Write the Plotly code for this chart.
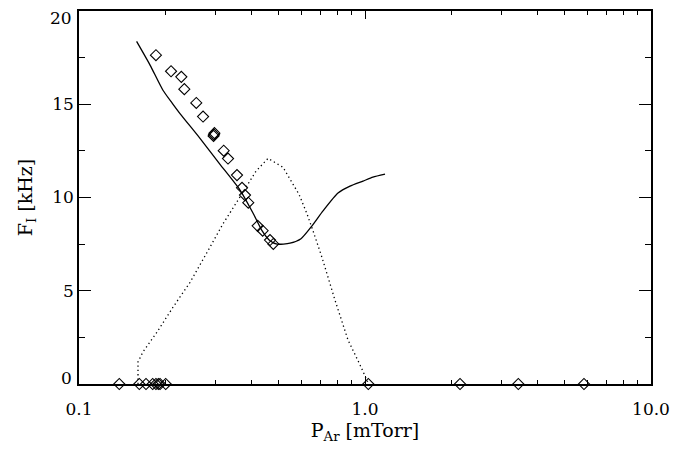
import plotly.graph_objects as go

# Model curve: ionisation frequency vs argon pressure
model_p = [0.1590, 0.1772, 0.1966, 0.2120, 0.2255, 0.2649, 0.3112, 0.3656,
           0.4058, 0.4364, 0.4654, 0.4925, 0.5467, 0.5973, 0.6527, 0.7131,
           0.8046, 0.8863, 0.9840, 1.066, 1.175]
model_f = [18.37, 17.10, 15.75, 15.05, 14.50, 13.17, 11.78, 10.40,
           9.17, 8.22, 7.68, 7.50, 7.55, 7.79, 8.48, 9.28,
           10.24, 10.61, 10.88, 11.09, 11.25]

# Second model curve (dotted)
alt_p = [0.1608, 0.1608, 0.1674, 0.1874, 0.2132, 0.2444, 0.2802, 0.3188,
         0.3656, 0.4157, 0.4582, 0.5168, 0.5878, 0.6269, 0.6579, 0.7075,
         0.7856, 0.8721, 0.9605, 1.0245]
alt_f = [0.0, 1.19, 1.72, 2.78, 4.12, 5.45, 7.05, 8.59,
         10.03, 11.41, 12.10, 11.62, 10.17, 9.12, 8.22, 6.78,
         4.49, 2.36, 1.03, 0.07]

# Measured frequencies
meas_p = [0.1858, 0.2098, 0.2279, 0.2335, 0.2571, 0.2715, 0.2955, 0.2965,
          0.2975, 0.3206, 0.3319, 0.3568, 0.3715, 0.3805, 0.3908, 0.4214,
          0.4387, 0.4654, 0.4780]
meas_f = [17.63, 16.77, 16.47, 15.81, 15.07, 14.34, 13.30, 13.37,
          13.45, 12.51, 12.09, 11.20, 10.52, 10.13, 9.72, 8.48,
          8.22, 7.72, 7.51]

# Pressures where no oscillation was observed
none_p = [0.1383, 0.1625, 0.1715, 0.1810, 0.1858, 0.1894, 0.1920, 0.2010,
          1.027, 2.149, 3.436, 5.83]
none_f = [0.0] * len(none_p)

x_ticks = [0.1, 1.0, 10.0]
x_labels = ["0.1", "1.0", "10.0"]
x_minor = [0.2, 0.3, 0.4, 0.5, 0.6, 0.7, 0.8, 0.9,
           2, 3, 4, 5, 6, 7, 8, 9]
y_ticks = [0, 5, 10, 15, 20]
y_labels = ["0", "5", "10", "15", "20"]

FONT = "DejaVu Serif"
TICK_FONT = dict(family=FONT, size=17, color="black")

fig = go.Figure()
fig.add_trace(go.Scatter(x=alt_p, y=alt_f, mode="lines",
                         line=dict(color="black", width=1.3, dash="1.3px,3px"),
                         showlegend=False))
fig.add_trace(go.Scatter(x=model_p, y=model_f, mode="lines",
                         line=dict(color="black", width=1.3, shape="spline",
                                   smoothing=0.6),
                         showlegend=False))
fig.add_trace(go.Scatter(x=meas_p + none_p, y=meas_f + none_f, mode="markers",
                         marker=dict(symbol="diamond-open", size=8.5,
                                     color="black", line=dict(width=1.1)),
                         cliponaxis=False, showlegend=False))

axis_common = dict(showline=True, linecolor="black", linewidth=1.5,
                   mirror="ticks", ticks="inside", tickcolor="black",
                   tickwidth=1.3, showgrid=False, zeroline=False,
                   tickfont=TICK_FONT)

fig.update_xaxes(type="log", range=[-1, 1], tickmode="array",
                 tickvals=x_ticks, ticktext=x_labels, ticklen=8,
                 ticklabelstandoff=9,
                 minor=dict(tickmode="array", tickvals=x_minor,
                            ticks="inside", ticklen=4, tickcolor="black",
                            tickwidth=1.1, showgrid=False),
                 title=dict(text="P<sub>Ar</sub> [mTorr]",
                            font=dict(family=FONT, size=19, color="black"),
                            standoff=4),
                 **axis_common)

# The end values 0 and 20 coincide with the frame, so only the inner
# values get axis labels; the end labels are placed as nudged text.
inner_vals = y_ticks[1:-1]
inner_text = y_labels[1:-1]
fig.update_yaxes(range=[0, 20], tickmode="array", tickvals=inner_vals,
                 ticktext=inner_text, ticklen=12,
                 minor=dict(dtick=2.5, ticks="inside", ticklen=6,
                            tickcolor="black", tickwidth=1.1, showgrid=False),
                 title=dict(text="F<sub>I</sub> [kHz]",
                            font=dict(family=FONT, size=19, color="black"),
                            standoff=15),
                 **axis_common)

for val, lab, shift in [(y_ticks[0], y_labels[0], 6),
                        (y_ticks[-1], y_labels[-1], -7)]:
    fig.add_annotation(x=0, xref="paper", xanchor="right", xshift=-5,
                       y=val, yref="y", yanchor="middle", yshift=shift,
                       text=lab, showarrow=False, font=TICK_FONT)

fig.update_layout(width=692, height=451,
                  margin=dict(l=79, r=41, t=9, b=67),
                  paper_bgcolor="white", plot_bgcolor="white")

fig.write_html("out.html")
